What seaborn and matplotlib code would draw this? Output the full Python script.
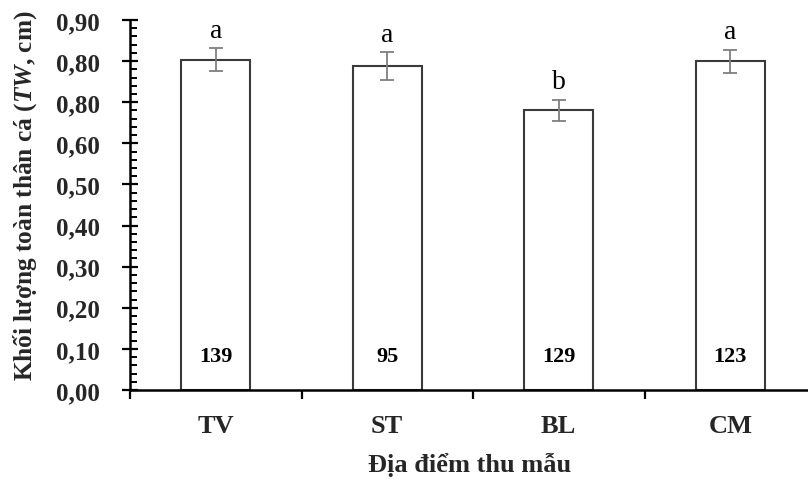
import numpy as np
import pandas as pd
import matplotlib
matplotlib.use("Agg")
import matplotlib.pyplot as plt
from matplotlib.ticker import FixedLocator, FixedFormatter, MultipleLocator
import seaborn as sns

# ---- data ----
sites = ["TV", "ST", "BL", "CM"]
means = [0.803, 0.788, 0.680, 0.800]
errors = [0.028, 0.033, 0.026, 0.028]
letters = ["a", "a", "b", "a"]
counts = ["139", "95", "129", "123"]
ytick_values = [0.0, 0.1, 0.2, 0.3, 0.4, 0.5, 0.6, 0.7, 0.8, 0.9]
ytick_labels = ["0,00", "0,10", "0,20", "0,30", "0,40", "0,50", "0,60", "0,80", "0,80", "0,90"]
xlabel = "Địa điểm thu mẫu"
ylabel = r"Khối lượng toàn thân cá ($\mathit{TW}$, cm)"

sns.set_style("white")
plt.rcParams["font.family"] = ["Liberation Serif", "DejaVu Serif"]
plt.rcParams["font.weight"] = "bold"
plt.rcParams["mathtext.fontset"] = "custom"
plt.rcParams["mathtext.it"] = "Liberation Serif:italic:bold"
plt.rcParams["mathtext.rm"] = "Liberation Serif:bold"

W, H = 808, 485
fig = plt.figure(figsize=(W / 100, H / 100), dpi=100)
left_px, right_px, top_px, bot_px = 130, 816, 21, 391
ax = fig.add_axes([left_px / W, (H - bot_px) / H, (right_px - left_px) / W, (bot_px - top_px) / H])

df = pd.DataFrame({"site": sites, "mean": means})
sns.barplot(data=df, x="site", y="mean", color="white", edgecolor="#3a3a3a",
            linewidth=1.5, width=0.40, errorbar=None, ax=ax, saturation=1)
for p in ax.patches:
    p.set_facecolor("white")

xpos = np.arange(len(sites))
ax.errorbar(xpos, means, yerr=errors, fmt="none", ecolor="#7f7f7f",
            elinewidth=1.3, capsize=5, capthick=1.3, zorder=3)

for x, m, e, l in zip(xpos, means, errors, letters):
    ax.text(x, m + e + 0.028, l, ha="center", va="baseline", fontsize=20,
            fontweight="normal", color="black")
for x, c in zip(xpos, counts):
    ax.text(x, 0.083, c, ha="center", va="center", fontsize=16,
            fontweight="bold", color="black")

ax.set_xlim(-0.5, 3.5)
ax.set_ylim(0, 0.9)

# spines
for s in ["top", "right"]:
    ax.spines[s].set_visible(False)
for s in ["left", "bottom"]:
    ax.spines[s].set_color("black")
    ax.spines[s].set_linewidth(1.8)

# y ticks
ax.yaxis.set_major_locator(FixedLocator(ytick_values))
ax.yaxis.set_major_formatter(FixedFormatter(ytick_labels))
ax.yaxis.set_minor_locator(MultipleLocator(0.02))
ax.tick_params(axis="y", which="major", direction="inout", length=11, width=1.6,
               pad=16, labelsize=18, left=True, color="black")
ax.tick_params(axis="y", which="minor", direction="in", length=5, width=1.4,
               left=True, color="black")

# x ticks: labels at centers with inward ticks, boundaries with outward minor ticks
ax.xaxis.set_major_locator(FixedLocator(xpos))
ax.set_xticklabels(sites)
ax.xaxis.set_minor_locator(FixedLocator([-0.5, 0.5, 1.5, 2.5, 3.5]))
ax.tick_params(axis="x", which="major", direction="in", length=4.5, width=1.6,
               pad=17, labelsize=19, bottom=True, color="black")
ax.tick_params(axis="x", which="minor", direction="out", length=6.5, width=1.6,
               bottom=True, color="black")
for t in ax.get_xticklabels() + ax.get_yticklabels():
    t.set_fontweight("bold")

ax.set_xlabel("")
ax.set_ylabel("")
fig.text(470 / W, 1 - 465 / H, xlabel, ha="center", va="center", fontsize=19,
         fontweight="bold")
fig.text(25 / W, 1 - 196 / H, ylabel, ha="center", va="center", rotation=90,
         fontsize=18.3, fontweight="bold")

fig.savefig("out.png", dpi=100)
